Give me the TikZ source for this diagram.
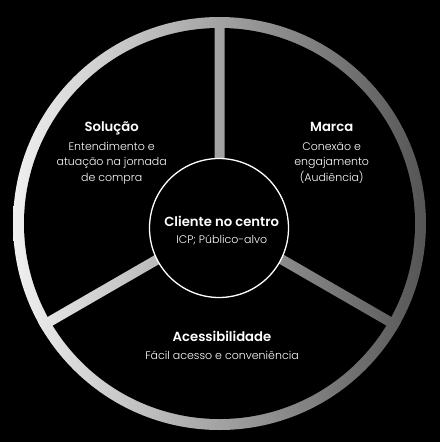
\documentclass[tikz,border=0pt]{standalone}
\usepackage{fontspec}
\setmainfont{Poppins}[UprightFont=* Light, BoldFont=* SemiBold]
\usetikzlibrary{calc}
\definecolor{ringL}{HTML}{F0F0F0}
\definecolor{ringR}{HTML}{555555}
\tikzset{
  title/.style={text=white, anchor=base, inner sep=0pt, font=\fontsize{13.2}{15}\selectfont\bfseries},
  body/.style={text=white, anchor=base, inner sep=0pt, font=\fontsize{11}{13}\selectfont},
  hub/.style={circle, draw=white, line width=1.3pt, fill=black, minimum size=139pt, inner sep=0pt}
}
\begin{document}
\begin{tikzpicture}[x=1pt,y=-1pt]
\fill[black] (0,0) rectangle (440,442);
\path[use as bounding box] (0,0) rectangle (440,442);
\coordinate (O) at (219.5,223.5);
\begin{scope}
  \clip (O) circle (206.5pt);
  \shade[left color=ringL, right color=ringR] (13,17) rectangle (426,430);
  \fill[black] (O) circle (195.5pt);
  \clip \foreach \a in {270,150,30} {
    ($(O)+(\a+90:5)$) -- ($(O)+(\a:210)+(\a+90:5)$) -- ($(O)+(\a:210)+(\a-90:5)$) -- ($(O)+(\a-90:5)$) -- cycle
  };
  \shade[left color=ringL, right color=ringR] (13,17) rectangle (426,430);
\end{scope}
\node[hub] (hub) at (219,228) {};
\node[title] (t1) at (111.7,131.5) {Solução};
\node[body] (s1) at (111.7,150.5) {Entendimento e};
\node[body] (s2) at (111.7,165.8) {atuação na jornada};
\node[body] (s3) at (111.7,181) {de compra};
\node[title] (t2) at (331.7,131.5) {Marca};
\node[body] (m1) at (331.7,150.5) {Conexão e};
\node[body] (m2) at (331.7,165.8) {engajamento};
\node[body] (m3) at (331.7,181) {(Audiência)};
\node[title] (t3) at (221.7,226) {Cliente no centro};
\node[body] (c1) at (221.7,243) {ICP; Público-alvo};
\node[title] (t4) at (222,341.7) {Acessibilidade};
\node[body] (a1) at (222,359) {Fácil acesso e conveniência};
\end{tikzpicture}
\end{document}
